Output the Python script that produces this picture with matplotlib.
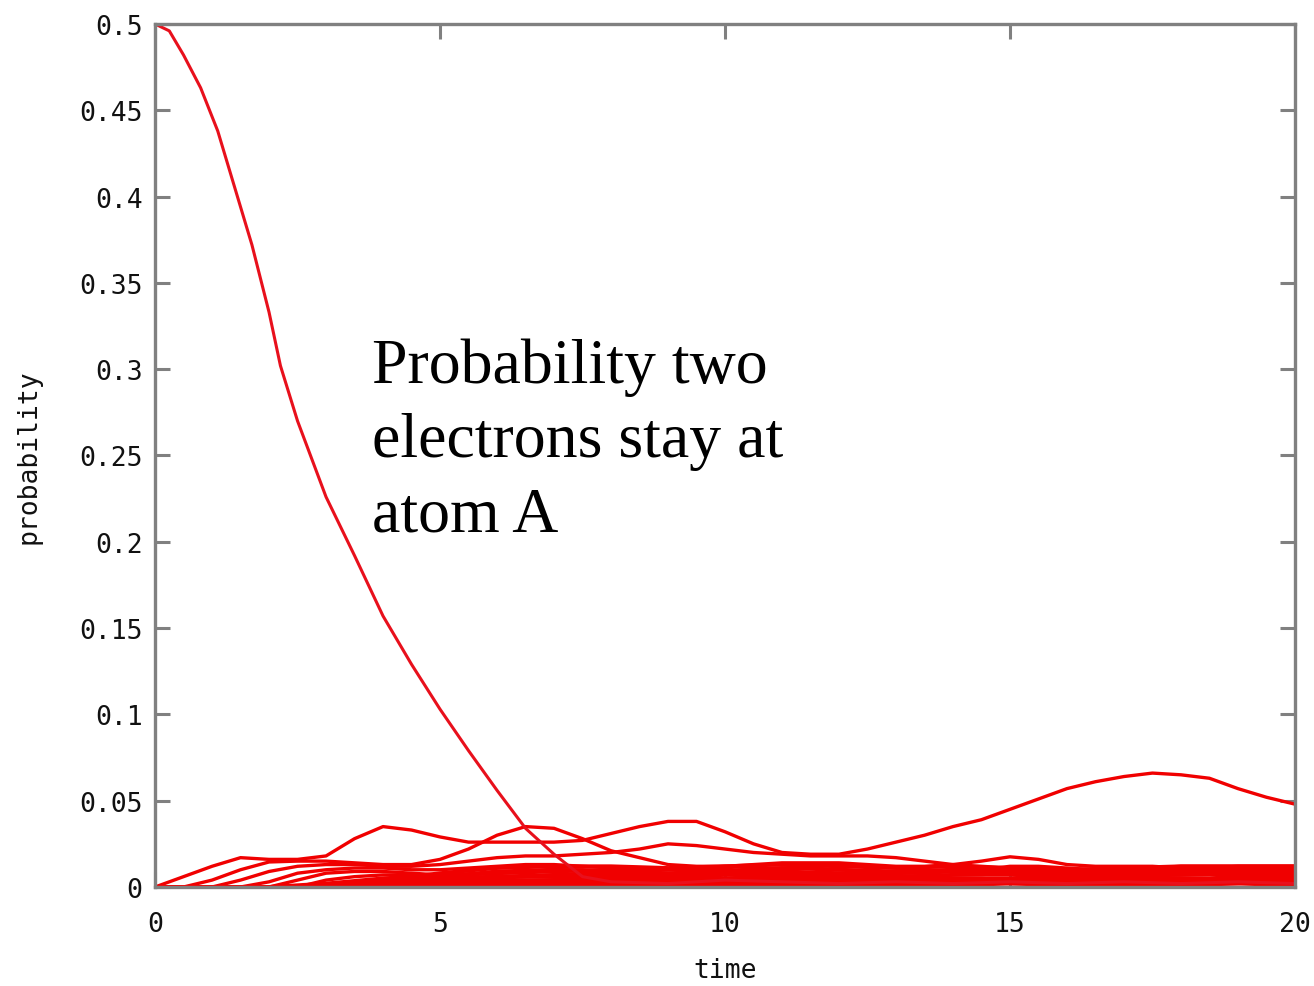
import matplotlib
matplotlib.use("Agg")
import matplotlib.pyplot as plt

# main curve: probability both electrons stay at atom A
t_main = [0, 0.25, 0.5, 0.8, 1.1, 1.4, 1.7, 2.0, 2.2, 2.5, 3.0, 3.5, 4.0, 4.5,
          5.0, 5.5, 6.0, 6.5, 7.0, 7.5, 8.0, 9, 10, 11, 12, 13, 14, 15, 16, 17,
          18, 19, 20]
p_main = [0.500, 0.496, 0.482, 0.463, 0.438, 0.405, 0.372, 0.333, 0.302, 0.270,
          0.226, 0.192, 0.157, 0.129, 0.103, 0.079, 0.056, 0.034, 0.019, 0.006,
          0.003, 0.002, 0.004, 0.003, 0.002, 0.003, 0.002, 0.003, 0.002, 0.003,
          0.002, 0.003, 0.002]

# other states, sampled every 0.5
t_half = [0, 0.5, 1, 1.5, 2, 2.5, 3, 3.5, 4, 4.5, 5, 5.5, 6, 6.5, 7, 7.5, 8, 8.5,
          9, 9.5, 10, 10.5, 11, 11.5, 12, 12.5, 13, 13.5, 14, 14.5, 15, 15.5, 16,
          16.5, 17, 17.5, 18, 18.5, 19, 19.5, 20]
p_b1 = [0, 0.006, 0.012, 0.017, 0.016, 0.016, 0.018, 0.028, 0.035, 0.033, 0.029,
        0.026, 0.026, 0.026, 0.026, 0.027, 0.031, 0.035, 0.038, 0.038, 0.032,
        0.025, 0.020, 0.019, 0.019, 0.022, 0.026, 0.030, 0.035, 0.039, 0.045,
        0.051, 0.057, 0.061, 0.064, 0.066, 0.065, 0.063, 0.057, 0.052, 0.048]
p_b2 = [0, 0, 0.004, 0.010, 0.0145, 0.015, 0.015, 0.014, 0.013, 0.013, 0.016,
        0.022, 0.030, 0.035, 0.034, 0.028, 0.021, 0.017, 0.013, 0.012, 0.012,
        0.011, 0.011, 0.012, 0.013, 0.012, 0.011, 0.010, 0.009, 0.010, 0.012,
        0.012, 0.011, 0.010, 0.010, 0.011, 0.012, 0.012, 0.012, 0.012, 0.012]
p_d = [0, 0, 0, 0.004, 0.009, 0.012, 0.013, 0.013, 0.012, 0.012, 0.013, 0.015,
       0.017, 0.018, 0.018, 0.019, 0.020, 0.022, 0.025, 0.024, 0.022, 0.020,
       0.019, 0.018, 0.018, 0.018, 0.017, 0.015, 0.013, 0.012, 0.011, 0.011,
       0.010, 0.010, 0.009, 0.009, 0.009, 0.009, 0.010, 0.010, 0.010]
p_e = [0, 0, 0, 0, 0.003, 0.008, 0.010, 0.011, 0.011, 0.010, 0.010, 0.011,
       0.012, 0.013, 0.013, 0.012, 0.011, 0.010, 0.010, 0.011, 0.012, 0.013,
       0.014, 0.014, 0.014, 0.013, 0.012, 0.012, 0.013, 0.015, 0.0175, 0.016,
       0.013, 0.012, 0.012, 0.012, 0.011, 0.011, 0.012, 0.012, 0.012]
p_f5 = [0, 0, 0, 0, 0, 0.004, 0.008, 0.009, 0.009, 0.008, 0.007, 0.007, 0.008,
        0.009, 0.010, 0.010, 0.009, 0.008, 0.007, 0.007, 0.008, 0.009, 0.010,
        0.011, 0.010, 0.009, 0.008, 0.008, 0.009, 0.010, 0.010, 0.010, 0.009,
        0.008, 0.008, 0.009, 0.010, 0.010, 0.009, 0.009, 0.009]
p_f6 = [0, 0, 0, 0, 0, 0, 0.004, 0.006, 0.007, 0.007, 0.006, 0.005, 0.005,
        0.006, 0.007, 0.008, 0.008, 0.007, 0.006, 0.005, 0.005, 0.006, 0.007,
        0.008, 0.008, 0.007, 0.006, 0.006, 0.007, 0.007, 0.007, 0.006, 0.006,
        0.006, 0.007, 0.007, 0.007, 0.007, 0.006, 0.006, 0.006]
p_f7 = [0, 0, 0, 0, 0, 0, 0, 0.002, 0.004, 0.005, 0.005, 0.004, 0.003, 0.003,
        0.004, 0.005, 0.006, 0.006, 0.005, 0.004, 0.003, 0.004, 0.005, 0.005,
        0.005, 0.004, 0.004, 0.004, 0.005, 0.005, 0.004, 0.004, 0.004, 0.005,
        0.005, 0.004, 0.004, 0.004, 0.004, 0.004, 0.004]
p_f8 = [0, 0, 0, 0, 0, 0, 0, 0, 0.001, 0.002, 0.003, 0.003, 0.002, 0.002,
        0.002, 0.003, 0.003, 0.004, 0.003, 0.003, 0.002, 0.002, 0.003, 0.003,
        0.003, 0.002, 0.002, 0.003, 0.003, 0.003, 0.002, 0.002, 0.002, 0.003,
        0.003, 0.003, 0.002, 0.002, 0.002, 0.003, 0.003]

# low-lying states, sampled every 1
t_one = list(range(21))
p_g1 = [0, 0, 0, 0.001, 0.003, 0.006, 0.009, 0.010, 0.009, 0.008, 0.009,
        0.011, 0.010, 0.009, 0.010, 0.011, 0.010, 0.009, 0.010, 0.011, 0.011]
p_g2 = [0, 0, 0, 0.001, 0.002, 0.004, 0.006, 0.007, 0.007, 0.006, 0.007,
        0.008, 0.007, 0.006, 0.007, 0.008, 0.008, 0.007, 0.007, 0.008, 0.008]
p_g3 = [0, 0, 0, 0, 0.001, 0.002, 0.003, 0.004, 0.005, 0.005, 0.004, 0.004,
        0.005, 0.006, 0.005, 0.005, 0.006, 0.006, 0.005, 0.005, 0.005]
p_g4 = [0, 0, 0, 0, 0.001, 0.002, 0.002, 0.001, 0.001, 0.002, 0.003, 0.002,
        0.001, 0.002, 0.003, 0.003, 0.002, 0.002, 0.003, 0.003, 0.002]
p_g5 = [0, 0, 0, 0, 0, 0.001, 0.001, 0.001, 0.002, 0.001, 0.001, 0.001,
        0.002, 0.001, 0.001, 0.002, 0.001, 0.001, 0.001, 0.002, 0.001]
p_g6 = [0, 0, 0, 0, 0.004, 0.008, 0.011, 0.012, 0.012, 0.011, 0.012, 0.013,
        0.012, 0.011, 0.012, 0.011, 0.010, 0.011, 0.012, 0.012, 0.012]
p_g7 = [0, 0, 0, 0.002, 0.005, 0.007, 0.008, 0.009, 0.010, 0.010, 0.010,
        0.009, 0.008, 0.008, 0.009, 0.009, 0.008, 0.008, 0.009, 0.009, 0.009]
p_g8 = [0, 0, 0, 0, 0.002, 0.005, 0.006, 0.006, 0.005, 0.004, 0.005, 0.006,
        0.006, 0.005, 0.004, 0.004, 0.005, 0.005, 0.004, 0.004, 0.004]
p_g9 = [0, 0, 0, 0, 0, 0.002, 0.004, 0.004, 0.003, 0.003, 0.004, 0.004,
        0.003, 0.003, 0.004, 0.004, 0.003, 0.003, 0.003, 0.003, 0.003]

x_ticks = [0, 5, 10, 15, 20]
y_ticks = [0, 0.05, 0.1, 0.15, 0.2, 0.25, 0.3, 0.35, 0.4, 0.45, 0.5]

fig = plt.figure(figsize=(13.14, 9.87), dpi=100)
ax = fig.add_axes([0.118, 0.1003, 0.8675, 0.8744])

red = "#f00000"
for p in [p_g1, p_g2, p_g3, p_g4, p_g5, p_g6, p_g7, p_g8, p_g9]:
    ax.plot(t_one, p, color=red, lw=2.8)
for p in [p_f8, p_f7, p_f6, p_f5, p_e, p_d, p_b2, p_b1]:
    ax.plot(t_half, p, color=red, lw=2.4)
ax.plot(t_main, p_main, color="#e8101c", lw=2.2)

ax.set_xlim(0, 20)
ax.set_ylim(0, 0.5)
ax.set_xticks(x_ticks)
ax.set_yticks(y_ticks)
ax.set_xticklabels([f"{v:g}" for v in x_ticks])
ax.set_yticklabels([f"{v:g}" for v in y_ticks])

mono = "DejaVu Sans Mono"
for lab in ax.get_xticklabels() + ax.get_yticklabels():
    lab.set_fontfamily(mono)
    lab.set_fontsize(19)
    lab.set_color("#111111")

ax.tick_params(direction="in", length=11, width=2.2, color="#808080",
               top=True, right=True)
ax.tick_params(axis="x", pad=17)
ax.tick_params(axis="y", pad=9)
for s in ax.spines.values():
    s.set_color("#808080")
    s.set_linewidth(2.4)

ax.set_xlabel("time", fontfamily=mono, fontsize=19, color="#111111", labelpad=15)
ax.set_ylabel("probability", fontfamily=mono, fontsize=19, color="#111111", labelpad=27)

ax.text(3.8, 0.3185, "Probability two\nelectrons stay at\natom A",
        fontfamily="Liberation Serif", fontsize=46, color="black",
        va="top", ha="left", linespacing=1.37)

fig.savefig("out.png", dpi=100)
